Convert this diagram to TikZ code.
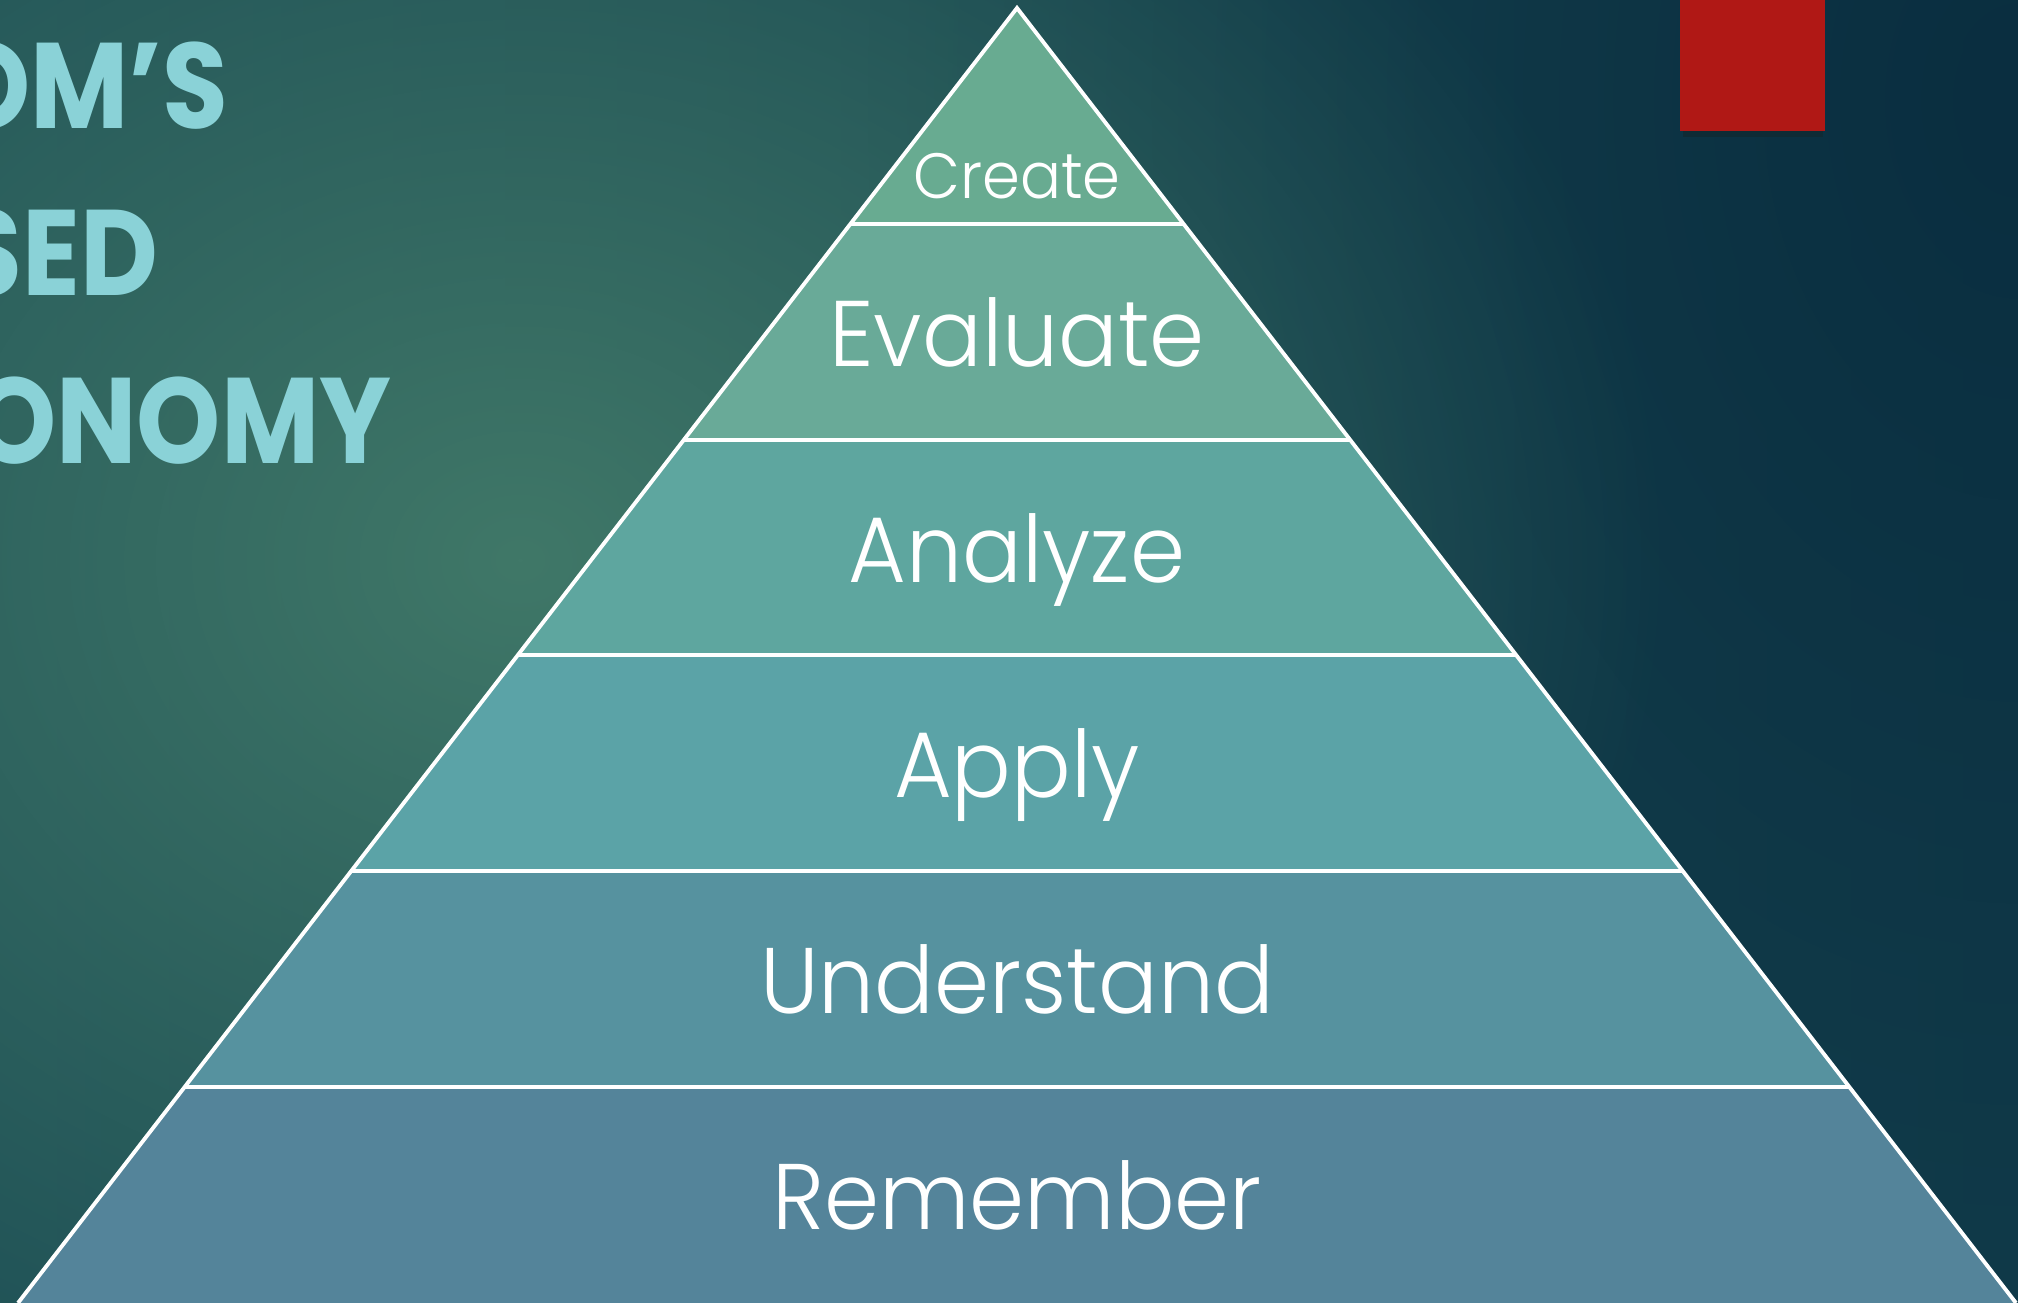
\documentclass[tikz,border=0pt]{standalone}
\usepackage{fontspec}
\setmainfont{Poppins}
\newfontfamily\labelfont{Poppins}[UprightFont=* Light, FakeStretch=0.95]
\newfontfamily\titlefont{Poppins}[UprightFont=* Bold, FakeStretch=0.88]
\usetikzlibrary{fadings}
\definecolor{bgL}{RGB}{30,80,86}
\definecolor{bgR}{RGB}{18,62,76}
\definecolor{darkc}{RGB}{10,46,64}
\definecolor{glowc}{RGB}{64,120,104}
\definecolor{titlec}{RGB}{138,210,215}
\definecolor{cA}{RGB}{104,171,145}
\definecolor{cB}{RGB}{105,170,152}
\definecolor{cC}{RGB}{94,166,159}
\definecolor{cD}{RGB}{91,163,167}
\definecolor{cE}{RGB}{86,146,159}
\definecolor{cF}{RGB}{84,132,154}
\definecolor{redsq}{RGB}{176,24,21}
\definecolor{shadowc}{RGB}{16,42,50}
\tikzfading[name=glowfade, inner color=transparent!0, outer color=transparent!100]
\tikzset{
  lbl/.style={text=white, inner sep=0pt, anchor=base, font=\labelfont\fontsize{26.5}{30}\selectfont},
  ttl/.style={text=titlec, inner sep=0pt, anchor=base east, font=\titlefont\fontsize{34.6}{40}\selectfont},
  edge/.style={draw=white, line width=1.1pt, line join=miter}
}
\begin{document}
\begin{tikzpicture}[x=0.01cm,y=-0.01cm]
\useasboundingbox (0,0) rectangle (2018,1303);
\clip (0,0) rectangle (2018,1303);
% background
\shade[left color=bgL, right color=bgR] (0,0) rectangle (2018,1303);
\fill[darkc, path fading=glowfade] (2018,100) ellipse [x radius=1150, y radius=1600];
\fill[glowc, path fading=glowfade] (520,560) ellipse [x radius=1150, y radius=950];
% red square with shadow
\fill[shadowc, opacity=0.8] (1683,0) rectangle (1823,137);
\fill[redsq] (1680,0) rectangle (1825,131);
% title
\node[ttl] (t1) at (229,128) {BLOOM’S};
\node[ttl] (t2) at (159,295) {REVISED};
\node[ttl] (t3) at (392,463) {TAXONOMY};
% pyramid coordinates
\coordinate (apex) at (1017,8);
\coordinate (L1) at (850,224);  \coordinate (R1) at (1184,224);
\coordinate (L2) at (684,440);  \coordinate (R2) at (1350,440);
\coordinate (L3) at (518,655);  \coordinate (R3) at (1516,655);
\coordinate (L4) at (351,871);  \coordinate (R4) at (1683,871);
\coordinate (L5) at (185,1087); \coordinate (R5) at (1849,1087);
\coordinate (L6) at (18,1303);  \coordinate (R6) at (2016,1303);
% bands
\fill[cA] (apex) -- (R1) -- (L1) -- cycle;
\fill[cB] (L1) -- (R1) -- (R2) -- (L2) -- cycle;
\fill[cC] (L2) -- (R2) -- (R3) -- (L3) -- cycle;
\fill[cD] (L3) -- (R3) -- (R4) -- (L4) -- cycle;
\fill[cE] (L4) -- (R4) -- (R5) -- (L5) -- cycle;
\fill[cF] (L5) -- (R5) -- (R6) -- (L6) -- cycle;
% outline
\draw[edge] (L6) -- (apex) -- (R6);
\draw[edge] (L1) -- (R1);
\draw[edge] (L2) -- (R2);
\draw[edge] (L3) -- (R3);
\draw[edge] (L4) -- (R4);
\draw[edge] (L5) -- (R5);
% labels
\node[lbl, font=\labelfont\fontsize{18.2}{22}\selectfont] (create) at (1017,198) {Create};
\node[lbl] (evaluate) at (1017,366) {Evaluate};
\node[lbl] (analyze) at (1017,582) {Analyze};
\node[lbl] (apply) at (1017,797) {Apply};
\node[lbl] (understand) at (1017,1013) {Understand};
\node[lbl] (remember) at (1017,1229) {Remember};
\end{tikzpicture}
\end{document}
